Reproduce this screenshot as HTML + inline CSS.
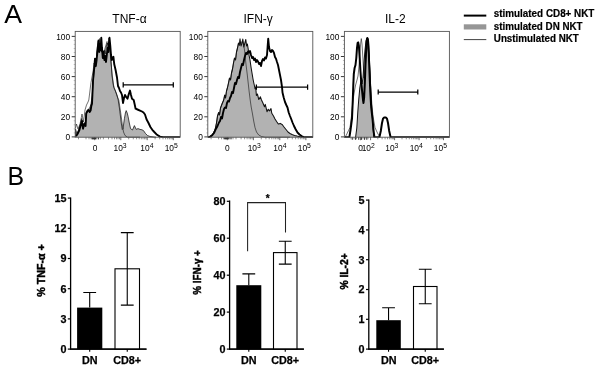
<!DOCTYPE html>
<html><head><meta charset="utf-8"><title>Figure</title>
<style>
html,body{margin:0;padding:0;background:#fff}
body{width:600px;height:369px;overflow:hidden}
svg{display:block}
text{font-family:"Liberation Sans",Arial,sans-serif;fill:#000}
.b{font-weight:bold}
.t{font-size:8.4px}
.s{font-size:6.8px}
.ax{font-size:10.8px;font-weight:bold;stroke:#000;stroke-width:0.25px}
.lg{font-size:10.5px;font-weight:bold;stroke:#000;stroke-width:0.2px}
</style></head><body>
<svg width="600" height="369" viewBox="0 0 600 369">
<rect width="600" height="369" fill="#fff"/>
<defs><clipPath id="cp"><rect x="0" y="0" width="600" height="137.85"/></clipPath></defs>
<text x="4.2" y="23" font-size="25" textLength="17.8" lengthAdjust="spacingAndGlyphs">A</text>
<text x="7.6" y="185" font-size="25" textLength="16.6" lengthAdjust="spacingAndGlyphs">B</text>
<text x="129.5" y="23.3" font-size="12" text-anchor="middle">TNF-α</text>
<line x1="71.7" y1="136.9" x2="75.2" y2="136.9" stroke="#222" stroke-width="0.9"/>
<text x="70.2" y="140.1" class="t" text-anchor="end">0</text>
<line x1="71.7" y1="116.8" x2="75.2" y2="116.8" stroke="#222" stroke-width="0.9"/>
<text x="70.2" y="120.0" class="t" text-anchor="end">20</text>
<line x1="71.7" y1="96.7" x2="75.2" y2="96.7" stroke="#222" stroke-width="0.9"/>
<text x="70.2" y="99.9" class="t" text-anchor="end">40</text>
<line x1="71.7" y1="76.6" x2="75.2" y2="76.6" stroke="#222" stroke-width="0.9"/>
<text x="70.2" y="79.8" class="t" text-anchor="end">60</text>
<line x1="71.7" y1="56.5" x2="75.2" y2="56.5" stroke="#222" stroke-width="0.9"/>
<text x="70.2" y="59.7" class="t" text-anchor="end">80</text>
<line x1="71.7" y1="36.4" x2="75.2" y2="36.4" stroke="#222" stroke-width="0.9"/>
<text x="70.2" y="39.6" class="t" text-anchor="end">100</text>
<line x1="73.7" y1="132.9" x2="75.2" y2="132.9" stroke="#888" stroke-width="0.5"/>
<line x1="73.7" y1="128.9" x2="75.2" y2="128.9" stroke="#888" stroke-width="0.5"/>
<line x1="73.7" y1="124.8" x2="75.2" y2="124.8" stroke="#888" stroke-width="0.5"/>
<line x1="73.7" y1="120.8" x2="75.2" y2="120.8" stroke="#888" stroke-width="0.5"/>
<line x1="73.7" y1="112.8" x2="75.2" y2="112.8" stroke="#888" stroke-width="0.5"/>
<line x1="73.7" y1="108.8" x2="75.2" y2="108.8" stroke="#888" stroke-width="0.5"/>
<line x1="73.7" y1="104.7" x2="75.2" y2="104.7" stroke="#888" stroke-width="0.5"/>
<line x1="73.7" y1="100.7" x2="75.2" y2="100.7" stroke="#888" stroke-width="0.5"/>
<line x1="73.7" y1="92.7" x2="75.2" y2="92.7" stroke="#888" stroke-width="0.5"/>
<line x1="73.7" y1="88.7" x2="75.2" y2="88.7" stroke="#888" stroke-width="0.5"/>
<line x1="73.7" y1="84.6" x2="75.2" y2="84.6" stroke="#888" stroke-width="0.5"/>
<line x1="73.7" y1="80.6" x2="75.2" y2="80.6" stroke="#888" stroke-width="0.5"/>
<line x1="73.7" y1="72.6" x2="75.2" y2="72.6" stroke="#888" stroke-width="0.5"/>
<line x1="73.7" y1="68.6" x2="75.2" y2="68.6" stroke="#888" stroke-width="0.5"/>
<line x1="73.7" y1="64.5" x2="75.2" y2="64.5" stroke="#888" stroke-width="0.5"/>
<line x1="73.7" y1="60.5" x2="75.2" y2="60.5" stroke="#888" stroke-width="0.5"/>
<line x1="73.7" y1="52.5" x2="75.2" y2="52.5" stroke="#888" stroke-width="0.5"/>
<line x1="73.7" y1="48.5" x2="75.2" y2="48.5" stroke="#888" stroke-width="0.5"/>
<line x1="73.7" y1="44.4" x2="75.2" y2="44.4" stroke="#888" stroke-width="0.5"/>
<line x1="73.7" y1="40.4" x2="75.2" y2="40.4" stroke="#888" stroke-width="0.5"/>
<text x="95.2" y="151.3" class="t" text-anchor="middle">0</text>
<text x="120.10000000000001" y="151.3" class="t" text-anchor="middle">10<tspan class="s" dy="-3.5">3</tspan></text>
<text x="146.89999999999998" y="151.3" class="t" text-anchor="middle">10<tspan class="s" dy="-3.5">4</tspan></text>
<text x="171.2" y="151.3" class="t" text-anchor="middle">10<tspan class="s" dy="-3.5">5</tspan></text>
<polygon points="75.5,137.2 75.5,129.0 77.0,134.0 79.0,128.5 80.5,123.5 81.7,118.5 83.0,127.0 84.5,122.5 85.5,123.5 86.2,112.5 87.5,110.0 88.7,108.7 89.8,108.0 91.0,104.0 92.2,96.0 93.0,84.0 93.8,75.0 94.8,67.0 95.4,61.0 96.0,64.0 96.6,56.0 97.3,47.0 98.3,41.0 99.0,48.0 99.8,38.5 100.6,46.0 101.4,52.0 102.3,47.0 103.2,56.0 104.2,50.0 105.2,54.0 106.2,47.0 107.2,43.0 108.2,45.0 109.0,38.0 109.8,44.0 110.6,55.0 111.3,65.0 112.0,76.0 113.7,87.5 115.5,91.0 117.0,95.0 118.2,100.0 119.4,108.0 120.4,116.0 121.4,124.0 122.3,129.5 123.0,128.7 124.4,118.7 125.4,113.0 126.2,110.6 127.2,113.0 128.0,116.2 129.3,123.0 130.6,128.7 132.5,130.0 134.4,125.6 136.2,129.4 138.0,128.6 140.0,129.4 142.0,129.8 143.5,130.6 145.5,133.5 147.5,135.5 150.0,136.5 156.0,137.2" fill="#b2b2b2"/>
<polyline points="75.5,137.2 75.5,129.0 77.0,134.0 79.0,128.5 80.5,123.5 81.7,118.5 83.0,127.0 84.5,122.5 85.5,123.5 86.2,112.5 87.5,110.0 88.7,108.7 89.8,108.0 91.0,104.0 92.2,96.0 93.0,84.0 93.8,75.0 94.8,67.0 95.4,61.0 96.0,64.0 96.6,56.0 97.3,47.0 98.3,41.0 99.0,48.0 99.8,38.5 100.6,46.0 101.4,52.0 102.3,47.0 103.2,56.0 104.2,50.0 105.2,54.0 106.2,47.0 107.2,43.0 108.2,45.0 109.0,38.0 109.8,44.0 110.6,55.0 111.3,65.0 112.0,76.0 113.7,87.5 115.5,91.0 117.0,95.0 118.2,100.0 119.4,108.0 120.4,116.0 121.4,124.0 122.3,129.5 123.0,128.7 124.4,118.7 125.4,113.0 126.2,110.6 127.2,113.0 128.0,116.2 129.3,123.0 130.6,128.7 132.5,130.0 134.4,125.6 136.2,129.4 138.0,128.6 140.0,129.4 142.0,129.8 143.5,130.6 145.5,133.5 147.5,135.5 150.0,136.5 156.0,137.2" fill="none" stroke="#111" stroke-width="0.75" stroke-linejoin="round"/>
<polyline points="75.5,128.0 76.5,124.0 78.0,129.0 80.0,124.0 82.0,114.0 83.5,122.0 85.0,110.0 86.5,105.0 88.0,102.0 88.8,100.0 89.7,93.0 90.4,87.0 91.0,82.5 92.0,77.0 93.0,72.0 94.0,63.0 95.5,66.0 97.0,52.0 98.5,45.0 99.5,52.0 100.5,43.0 101.5,50.0 103.0,55.0 104.5,50.0 106.0,45.0 107.0,41.5 108.0,47.0 109.0,42.0 110.0,50.0 111.0,62.0 112.0,73.0 113.5,85.0 115.0,90.0 117.0,96.0 118.8,100.0 120.0,108.0 121.3,117.0 122.5,126.0 123.5,132.0 125.0,135.5 127.5,137.2 140.0,137.2" fill="none" stroke="#111" stroke-width="0.6" stroke-linejoin="round"/>
<polyline points="76.0,136.3 77.5,134.0 79.4,130.0 80.8,125.0 82.0,121.0 83.0,128.7 84.3,124.0 85.6,126.0 86.2,113.7 87.5,111.0 88.7,110.0 89.7,112.0 90.6,110.6 91.3,106.0 92.0,103.7 92.4,95.0 93.0,81.0 93.6,74.0 94.4,66.0 95.0,58.6 95.8,66.0 96.6,60.0 97.4,52.0 98.0,46.0 98.5,40.5 99.3,52.0 100.0,44.0 100.6,50.0 101.3,37.8 102.0,49.0 102.8,58.0 103.6,52.0 104.4,60.0 105.2,56.0 106.0,62.0 106.8,55.0 107.6,48.0 108.4,52.0 109.5,37.8 110.3,46.0 111.0,55.0 111.8,60.0 112.6,58.0 113.4,56.7 114.2,64.0 115.6,70.0 117.0,77.5 118.0,86.0 119.0,88.0 120.0,91.0 121.0,92.5 122.0,95.0 123.0,103.0 124.0,98.0 125.0,95.0 126.2,97.0 127.5,98.7 128.8,94.0 130.0,90.6 131.0,95.0 132.0,98.7 133.7,100.0 134.6,104.0 135.6,108.7 137.5,109.5 140.0,110.6 142.0,111.5 143.5,112.5 145.0,114.5 146.5,119.3 148.5,123.0 150.4,127.0 152.3,129.8 154.3,132.0 157.0,134.8 160.0,136.6 163.0,137.2 180.0,137.2" fill="none" stroke="#000" stroke-width="1.9" stroke-linejoin="round" clip-path="url(#cp)"/>
<path d="M123.2 84.9H173.3M123.2 82.30000000000001V87.5M173.3 82.30000000000001V87.5" stroke="#000" stroke-width="1.25" fill="none"/>
<rect x="75.2" y="31.4" width="105" height="105.8" fill="none" stroke="#555" stroke-width="0.9"/>
<path d="M91.6 138.4H96.2M98 138.4H98.8" stroke="#111" stroke-width="1.5"/>
<line x1="94.7" y1="137.2" x2="94.7" y2="140.2" stroke="#444" stroke-width="0.8"/>
<line x1="120.8" y1="137.2" x2="120.8" y2="140.2" stroke="#444" stroke-width="0.8"/>
<line x1="147.2" y1="137.2" x2="147.2" y2="140.2" stroke="#444" stroke-width="0.8"/>
<line x1="173.3" y1="137.2" x2="173.3" y2="140.2" stroke="#444" stroke-width="0.8"/>
<line x1="78.5" y1="137.2" x2="78.5" y2="139.29999999999998" stroke="#555" stroke-width="0.65"/>
<line x1="86" y1="137.2" x2="86" y2="139.29999999999998" stroke="#555" stroke-width="0.65"/>
<line x1="89" y1="137.2" x2="89" y2="139.29999999999998" stroke="#555" stroke-width="0.65"/>
<line x1="91" y1="137.2" x2="91" y2="139.29999999999998" stroke="#555" stroke-width="0.65"/>
<line x1="92.5" y1="137.2" x2="92.5" y2="139.29999999999998" stroke="#555" stroke-width="0.65"/>
<line x1="93.6" y1="137.2" x2="93.6" y2="139.29999999999998" stroke="#555" stroke-width="0.65"/>
<line x1="95.8" y1="137.2" x2="95.8" y2="139.29999999999998" stroke="#555" stroke-width="0.65"/>
<line x1="96.9" y1="137.2" x2="96.9" y2="139.29999999999998" stroke="#555" stroke-width="0.65"/>
<line x1="98.4" y1="137.2" x2="98.4" y2="139.29999999999998" stroke="#555" stroke-width="0.65"/>
<line x1="100.4" y1="137.2" x2="100.4" y2="139.29999999999998" stroke="#555" stroke-width="0.65"/>
<line x1="103.4" y1="137.2" x2="103.4" y2="139.29999999999998" stroke="#555" stroke-width="0.65"/>
<line x1="108.5" y1="137.2" x2="108.5" y2="139.29999999999998" stroke="#555" stroke-width="0.65"/>
<line x1="112" y1="137.2" x2="112" y2="139.29999999999998" stroke="#555" stroke-width="0.65"/>
<line x1="114.5" y1="137.2" x2="114.5" y2="139.29999999999998" stroke="#555" stroke-width="0.65"/>
<line x1="116.5" y1="137.2" x2="116.5" y2="139.29999999999998" stroke="#555" stroke-width="0.65"/>
<line x1="118" y1="137.2" x2="118" y2="139.29999999999998" stroke="#555" stroke-width="0.65"/>
<line x1="119.5" y1="137.2" x2="119.5" y2="139.29999999999998" stroke="#555" stroke-width="0.65"/>
<line x1="128.7" y1="137.2" x2="128.7" y2="139.29999999999998" stroke="#555" stroke-width="0.65"/>
<line x1="133.3" y1="137.2" x2="133.3" y2="139.29999999999998" stroke="#555" stroke-width="0.65"/>
<line x1="136.6" y1="137.2" x2="136.6" y2="139.29999999999998" stroke="#555" stroke-width="0.65"/>
<line x1="139.2" y1="137.2" x2="139.2" y2="139.29999999999998" stroke="#555" stroke-width="0.65"/>
<line x1="141.3" y1="137.2" x2="141.3" y2="139.29999999999998" stroke="#555" stroke-width="0.65"/>
<line x1="143" y1="137.2" x2="143" y2="139.29999999999998" stroke="#555" stroke-width="0.65"/>
<line x1="144.6" y1="137.2" x2="144.6" y2="139.29999999999998" stroke="#555" stroke-width="0.65"/>
<line x1="146" y1="137.2" x2="146" y2="139.29999999999998" stroke="#555" stroke-width="0.65"/>
<line x1="155.1" y1="137.2" x2="155.1" y2="139.29999999999998" stroke="#555" stroke-width="0.65"/>
<line x1="159.7" y1="137.2" x2="159.7" y2="139.29999999999998" stroke="#555" stroke-width="0.65"/>
<line x1="163" y1="137.2" x2="163" y2="139.29999999999998" stroke="#555" stroke-width="0.65"/>
<line x1="165.6" y1="137.2" x2="165.6" y2="139.29999999999998" stroke="#555" stroke-width="0.65"/>
<line x1="167.7" y1="137.2" x2="167.7" y2="139.29999999999998" stroke="#555" stroke-width="0.65"/>
<line x1="169.4" y1="137.2" x2="169.4" y2="139.29999999999998" stroke="#555" stroke-width="0.65"/>
<line x1="171" y1="137.2" x2="171" y2="139.29999999999998" stroke="#555" stroke-width="0.65"/>
<line x1="172.3" y1="137.2" x2="172.3" y2="139.29999999999998" stroke="#555" stroke-width="0.65"/>
<text x="258.2" y="23.3" font-size="12" text-anchor="middle">IFN-γ</text>
<line x1="204.3" y1="136.9" x2="207.8" y2="136.9" stroke="#222" stroke-width="0.9"/>
<text x="202.8" y="140.1" class="t" text-anchor="end">0</text>
<line x1="204.3" y1="116.8" x2="207.8" y2="116.8" stroke="#222" stroke-width="0.9"/>
<text x="202.8" y="120.0" class="t" text-anchor="end">20</text>
<line x1="204.3" y1="96.7" x2="207.8" y2="96.7" stroke="#222" stroke-width="0.9"/>
<text x="202.8" y="99.9" class="t" text-anchor="end">40</text>
<line x1="204.3" y1="76.6" x2="207.8" y2="76.6" stroke="#222" stroke-width="0.9"/>
<text x="202.8" y="79.8" class="t" text-anchor="end">60</text>
<line x1="204.3" y1="56.5" x2="207.8" y2="56.5" stroke="#222" stroke-width="0.9"/>
<text x="202.8" y="59.7" class="t" text-anchor="end">80</text>
<line x1="204.3" y1="36.4" x2="207.8" y2="36.4" stroke="#222" stroke-width="0.9"/>
<text x="202.8" y="39.6" class="t" text-anchor="end">100</text>
<line x1="206.3" y1="132.9" x2="207.8" y2="132.9" stroke="#888" stroke-width="0.5"/>
<line x1="206.3" y1="128.9" x2="207.8" y2="128.9" stroke="#888" stroke-width="0.5"/>
<line x1="206.3" y1="124.8" x2="207.8" y2="124.8" stroke="#888" stroke-width="0.5"/>
<line x1="206.3" y1="120.8" x2="207.8" y2="120.8" stroke="#888" stroke-width="0.5"/>
<line x1="206.3" y1="112.8" x2="207.8" y2="112.8" stroke="#888" stroke-width="0.5"/>
<line x1="206.3" y1="108.8" x2="207.8" y2="108.8" stroke="#888" stroke-width="0.5"/>
<line x1="206.3" y1="104.7" x2="207.8" y2="104.7" stroke="#888" stroke-width="0.5"/>
<line x1="206.3" y1="100.7" x2="207.8" y2="100.7" stroke="#888" stroke-width="0.5"/>
<line x1="206.3" y1="92.7" x2="207.8" y2="92.7" stroke="#888" stroke-width="0.5"/>
<line x1="206.3" y1="88.7" x2="207.8" y2="88.7" stroke="#888" stroke-width="0.5"/>
<line x1="206.3" y1="84.6" x2="207.8" y2="84.6" stroke="#888" stroke-width="0.5"/>
<line x1="206.3" y1="80.6" x2="207.8" y2="80.6" stroke="#888" stroke-width="0.5"/>
<line x1="206.3" y1="72.6" x2="207.8" y2="72.6" stroke="#888" stroke-width="0.5"/>
<line x1="206.3" y1="68.6" x2="207.8" y2="68.6" stroke="#888" stroke-width="0.5"/>
<line x1="206.3" y1="64.5" x2="207.8" y2="64.5" stroke="#888" stroke-width="0.5"/>
<line x1="206.3" y1="60.5" x2="207.8" y2="60.5" stroke="#888" stroke-width="0.5"/>
<line x1="206.3" y1="52.5" x2="207.8" y2="52.5" stroke="#888" stroke-width="0.5"/>
<line x1="206.3" y1="48.5" x2="207.8" y2="48.5" stroke="#888" stroke-width="0.5"/>
<line x1="206.3" y1="44.4" x2="207.8" y2="44.4" stroke="#888" stroke-width="0.5"/>
<line x1="206.3" y1="40.4" x2="207.8" y2="40.4" stroke="#888" stroke-width="0.5"/>
<text x="227.4" y="151.3" class="t" text-anchor="middle">0</text>
<text x="254.2" y="151.3" class="t" text-anchor="middle">10<tspan class="s" dy="-3.5">3</tspan></text>
<text x="279.9" y="151.3" class="t" text-anchor="middle">10<tspan class="s" dy="-3.5">4</tspan></text>
<text x="304.3" y="151.3" class="t" text-anchor="middle">10<tspan class="s" dy="-3.5">5</tspan></text>
<polygon points="208.0,137.2 210.0,136.5 212.0,135.0 213.5,133.0 215.0,130.0 216.5,123.0 217.5,116.0 218.7,112.5 219.5,115.0 220.5,108.0 222.0,104.0 223.7,100.0 224.7,95.0 225.5,98.0 226.5,91.0 227.5,87.5 228.5,83.0 229.5,78.0 230.5,80.0 231.5,73.0 232.5,69.0 233.5,63.0 234.5,58.0 235.5,60.0 236.5,52.0 237.5,48.0 238.5,43.0 239.3,45.0 240.0,38.7 241.0,46.0 241.8,44.0 242.8,39.0 243.8,47.0 244.6,44.0 245.8,39.5 246.6,46.0 247.4,44.0 248.2,49.0 249.0,55.0 250.0,60.0 251.0,67.0 252.0,73.0 253.0,79.0 253.7,82.5 254.5,86.0 255.0,88.7 255.7,87.0 256.4,95.5 257.4,94.0 258.8,99.5 260.4,96.8 261.5,100.0 262.8,102.8 264.5,106.8 265.3,104.4 267.0,111.7 268.2,109.3 269.4,110.9 271.0,108.6 271.8,113.3 273.5,116.0 275.0,119.0 276.6,121.5 278.3,124.0 280.3,123.4 282.4,124.7 283.6,126.5 284.8,128.0 286.4,130.0 288.0,132.0 290.0,133.5 292.0,134.5 294.5,135.4 297.0,136.1 302.0,137.2" fill="#b2b2b2"/>
<polyline points="208.0,137.2 210.0,136.5 212.0,135.0 213.5,133.0 215.0,130.0 216.5,123.0 217.5,116.0 218.7,112.5 219.5,115.0 220.5,108.0 222.0,104.0 223.7,100.0 224.7,95.0 225.5,98.0 226.5,91.0 227.5,87.5 228.5,83.0 229.5,78.0 230.5,80.0 231.5,73.0 232.5,69.0 233.5,63.0 234.5,58.0 235.5,60.0 236.5,52.0 237.5,48.0 238.5,43.0 239.3,45.0 240.0,38.7 241.0,46.0 241.8,44.0 242.8,39.0 243.8,47.0 244.6,44.0 245.8,39.5 246.6,46.0 247.4,44.0 248.2,49.0 249.0,55.0 250.0,60.0 251.0,67.0 252.0,73.0 253.0,79.0 253.7,82.5 254.5,86.0 255.0,88.7 255.7,87.0 256.4,95.5 257.4,94.0 258.8,99.5 260.4,96.8 261.5,100.0 262.8,102.8 264.5,106.8 265.3,104.4 267.0,111.7 268.2,109.3 269.4,110.9 271.0,108.6 271.8,113.3 273.5,116.0 275.0,119.0 276.6,121.5 278.3,124.0 280.3,123.4 282.4,124.7 283.6,126.5 284.8,128.0 286.4,130.0 288.0,132.0 290.0,133.5 292.0,134.5 294.5,135.4 297.0,136.1 302.0,137.2" fill="none" stroke="#111" stroke-width="1.05" stroke-linejoin="round"/>
<polyline points="208.0,137.2 210.0,136.5 212.0,135.0 213.5,133.0 215.0,130.0 216.5,123.0 217.5,116.0 218.7,112.5 219.5,115.0 220.5,108.0 222.0,104.0 223.7,100.0 224.7,95.0 225.5,98.0 226.5,91.0 227.5,87.5 228.5,83.0 229.5,78.0 230.5,80.0 231.5,73.0 232.5,69.0 233.5,63.0 234.5,58.0 235.5,60.0 236.5,52.0 237.5,48.0 238.5,43.0 239.5,45.5 241.0,43.0 242.5,41.0 243.5,44.0 244.5,50.0 245.3,58.0 246.2,66.0 247.2,74.0 248.2,83.0 249.2,92.0 250.2,100.0 251.2,107.0 252.5,114.0 253.7,121.0 255.0,127.5 256.5,132.0 258.7,135.0 261.5,136.5 265.0,137.2 290.0,137.2" fill="none" stroke="#111" stroke-width="0.6" stroke-linejoin="round"/>
<polyline points="208.5,137.2 210.0,136.8 212.0,135.5 214.0,133.0 216.0,128.7 217.5,126.0 219.0,122.5 220.0,121.0 221.0,117.0 222.0,118.5 223.0,113.0 224.0,109.0 225.0,107.5 226.0,108.0 227.0,103.0 228.0,101.0 229.0,101.5 230.0,98.0 231.0,96.0 232.0,92.0 233.0,93.0 234.0,88.0 235.0,83.0 236.0,84.0 237.0,80.0 238.0,77.0 239.0,78.0 240.0,72.0 241.0,68.0 242.0,64.0 243.0,65.0 244.0,60.0 245.0,56.0 246.0,53.0 247.0,54.0 248.0,51.5 249.0,52.5 250.0,51.0 251.0,55.0 252.0,58.0 253.0,57.0 254.0,60.0 255.0,58.5 256.0,62.0 257.0,60.0 258.0,61.5 259.0,64.0 260.0,63.0 261.0,66.0 262.0,61.0 263.0,59.0 264.0,60.5 265.0,57.5 266.0,58.5 267.0,55.0 267.6,47.0 268.2,38.7 269.0,47.0 270.0,51.0 271.0,52.0 272.0,50.0 273.0,51.0 274.0,53.0 275.0,57.0 276.0,58.7 277.0,62.0 278.0,65.0 279.0,70.0 280.0,75.0 281.0,80.0 282.0,87.0 282.5,92.5 283.7,97.5 285.0,102.0 286.3,105.0 287.5,107.5 288.7,112.5 290.0,116.0 291.2,119.0 292.5,122.5 294.0,126.0 295.5,129.0 297.5,132.5 299.5,134.5 301.5,136.0 303.7,137.2 313.0,137.2" fill="none" stroke="#000" stroke-width="1.9" stroke-linejoin="round" clip-path="url(#cp)"/>
<path d="M256.4 87.2H307.6M256.4 84.60000000000001V89.8M307.6 84.60000000000001V89.8" stroke="#000" stroke-width="1.25" fill="none"/>
<rect x="207.8" y="31.4" width="105" height="105.8" fill="none" stroke="#555" stroke-width="0.9"/>
<path d="M224.2 138.4H228.8M230.6 138.4H231.4" stroke="#111" stroke-width="1.5"/>
<line x1="227.3" y1="137.2" x2="227.3" y2="140.2" stroke="#444" stroke-width="0.8"/>
<line x1="253.4" y1="137.2" x2="253.4" y2="140.2" stroke="#444" stroke-width="0.8"/>
<line x1="279.8" y1="137.2" x2="279.8" y2="140.2" stroke="#444" stroke-width="0.8"/>
<line x1="305.9" y1="137.2" x2="305.9" y2="140.2" stroke="#444" stroke-width="0.8"/>
<line x1="211.1" y1="137.2" x2="211.1" y2="139.29999999999998" stroke="#555" stroke-width="0.65"/>
<line x1="218.6" y1="137.2" x2="218.6" y2="139.29999999999998" stroke="#555" stroke-width="0.65"/>
<line x1="221.6" y1="137.2" x2="221.6" y2="139.29999999999998" stroke="#555" stroke-width="0.65"/>
<line x1="223.6" y1="137.2" x2="223.6" y2="139.29999999999998" stroke="#555" stroke-width="0.65"/>
<line x1="225.1" y1="137.2" x2="225.1" y2="139.29999999999998" stroke="#555" stroke-width="0.65"/>
<line x1="226.2" y1="137.2" x2="226.2" y2="139.29999999999998" stroke="#555" stroke-width="0.65"/>
<line x1="228.4" y1="137.2" x2="228.4" y2="139.29999999999998" stroke="#555" stroke-width="0.65"/>
<line x1="229.5" y1="137.2" x2="229.5" y2="139.29999999999998" stroke="#555" stroke-width="0.65"/>
<line x1="231" y1="137.2" x2="231" y2="139.29999999999998" stroke="#555" stroke-width="0.65"/>
<line x1="233" y1="137.2" x2="233" y2="139.29999999999998" stroke="#555" stroke-width="0.65"/>
<line x1="236" y1="137.2" x2="236" y2="139.29999999999998" stroke="#555" stroke-width="0.65"/>
<line x1="241.1" y1="137.2" x2="241.1" y2="139.29999999999998" stroke="#555" stroke-width="0.65"/>
<line x1="244.6" y1="137.2" x2="244.6" y2="139.29999999999998" stroke="#555" stroke-width="0.65"/>
<line x1="247.1" y1="137.2" x2="247.1" y2="139.29999999999998" stroke="#555" stroke-width="0.65"/>
<line x1="249.1" y1="137.2" x2="249.1" y2="139.29999999999998" stroke="#555" stroke-width="0.65"/>
<line x1="250.6" y1="137.2" x2="250.6" y2="139.29999999999998" stroke="#555" stroke-width="0.65"/>
<line x1="252.1" y1="137.2" x2="252.1" y2="139.29999999999998" stroke="#555" stroke-width="0.65"/>
<line x1="261.3" y1="137.2" x2="261.3" y2="139.29999999999998" stroke="#555" stroke-width="0.65"/>
<line x1="265.9" y1="137.2" x2="265.9" y2="139.29999999999998" stroke="#555" stroke-width="0.65"/>
<line x1="269.2" y1="137.2" x2="269.2" y2="139.29999999999998" stroke="#555" stroke-width="0.65"/>
<line x1="271.8" y1="137.2" x2="271.8" y2="139.29999999999998" stroke="#555" stroke-width="0.65"/>
<line x1="273.9" y1="137.2" x2="273.9" y2="139.29999999999998" stroke="#555" stroke-width="0.65"/>
<line x1="275.6" y1="137.2" x2="275.6" y2="139.29999999999998" stroke="#555" stroke-width="0.65"/>
<line x1="277.2" y1="137.2" x2="277.2" y2="139.29999999999998" stroke="#555" stroke-width="0.65"/>
<line x1="278.6" y1="137.2" x2="278.6" y2="139.29999999999998" stroke="#555" stroke-width="0.65"/>
<line x1="287.7" y1="137.2" x2="287.7" y2="139.29999999999998" stroke="#555" stroke-width="0.65"/>
<line x1="292.3" y1="137.2" x2="292.3" y2="139.29999999999998" stroke="#555" stroke-width="0.65"/>
<line x1="295.6" y1="137.2" x2="295.6" y2="139.29999999999998" stroke="#555" stroke-width="0.65"/>
<line x1="298.2" y1="137.2" x2="298.2" y2="139.29999999999998" stroke="#555" stroke-width="0.65"/>
<line x1="300.3" y1="137.2" x2="300.3" y2="139.29999999999998" stroke="#555" stroke-width="0.65"/>
<line x1="302" y1="137.2" x2="302" y2="139.29999999999998" stroke="#555" stroke-width="0.65"/>
<line x1="303.6" y1="137.2" x2="303.6" y2="139.29999999999998" stroke="#555" stroke-width="0.65"/>
<line x1="304.9" y1="137.2" x2="304.9" y2="139.29999999999998" stroke="#555" stroke-width="0.65"/>
<text x="395.3" y="23.3" font-size="12" text-anchor="middle">IL-2</text>
<line x1="340.9" y1="136.9" x2="344.4" y2="136.9" stroke="#222" stroke-width="0.9"/>
<text x="339.4" y="140.1" class="t" text-anchor="end">0</text>
<line x1="340.9" y1="116.8" x2="344.4" y2="116.8" stroke="#222" stroke-width="0.9"/>
<text x="339.4" y="120.0" class="t" text-anchor="end">20</text>
<line x1="340.9" y1="96.7" x2="344.4" y2="96.7" stroke="#222" stroke-width="0.9"/>
<text x="339.4" y="99.9" class="t" text-anchor="end">40</text>
<line x1="340.9" y1="76.6" x2="344.4" y2="76.6" stroke="#222" stroke-width="0.9"/>
<text x="339.4" y="79.8" class="t" text-anchor="end">60</text>
<line x1="340.9" y1="56.5" x2="344.4" y2="56.5" stroke="#222" stroke-width="0.9"/>
<text x="339.4" y="59.7" class="t" text-anchor="end">80</text>
<line x1="340.9" y1="36.4" x2="344.4" y2="36.4" stroke="#222" stroke-width="0.9"/>
<text x="339.4" y="39.6" class="t" text-anchor="end">100</text>
<line x1="342.9" y1="132.9" x2="344.4" y2="132.9" stroke="#888" stroke-width="0.5"/>
<line x1="342.9" y1="128.9" x2="344.4" y2="128.9" stroke="#888" stroke-width="0.5"/>
<line x1="342.9" y1="124.8" x2="344.4" y2="124.8" stroke="#888" stroke-width="0.5"/>
<line x1="342.9" y1="120.8" x2="344.4" y2="120.8" stroke="#888" stroke-width="0.5"/>
<line x1="342.9" y1="112.8" x2="344.4" y2="112.8" stroke="#888" stroke-width="0.5"/>
<line x1="342.9" y1="108.8" x2="344.4" y2="108.8" stroke="#888" stroke-width="0.5"/>
<line x1="342.9" y1="104.7" x2="344.4" y2="104.7" stroke="#888" stroke-width="0.5"/>
<line x1="342.9" y1="100.7" x2="344.4" y2="100.7" stroke="#888" stroke-width="0.5"/>
<line x1="342.9" y1="92.7" x2="344.4" y2="92.7" stroke="#888" stroke-width="0.5"/>
<line x1="342.9" y1="88.7" x2="344.4" y2="88.7" stroke="#888" stroke-width="0.5"/>
<line x1="342.9" y1="84.6" x2="344.4" y2="84.6" stroke="#888" stroke-width="0.5"/>
<line x1="342.9" y1="80.6" x2="344.4" y2="80.6" stroke="#888" stroke-width="0.5"/>
<line x1="342.9" y1="72.6" x2="344.4" y2="72.6" stroke="#888" stroke-width="0.5"/>
<line x1="342.9" y1="68.6" x2="344.4" y2="68.6" stroke="#888" stroke-width="0.5"/>
<line x1="342.9" y1="64.5" x2="344.4" y2="64.5" stroke="#888" stroke-width="0.5"/>
<line x1="342.9" y1="60.5" x2="344.4" y2="60.5" stroke="#888" stroke-width="0.5"/>
<line x1="342.9" y1="52.5" x2="344.4" y2="52.5" stroke="#888" stroke-width="0.5"/>
<line x1="342.9" y1="48.5" x2="344.4" y2="48.5" stroke="#888" stroke-width="0.5"/>
<line x1="342.9" y1="44.4" x2="344.4" y2="44.4" stroke="#888" stroke-width="0.5"/>
<line x1="342.9" y1="40.4" x2="344.4" y2="40.4" stroke="#888" stroke-width="0.5"/>
<text x="360.6" y="151.3" class="t" text-anchor="middle">0</text>
<text x="368.2" y="151.3" class="t" text-anchor="middle">10<tspan class="s" dy="-3.5">2</tspan></text>
<text x="391.8" y="151.3" class="t" text-anchor="middle">10<tspan class="s" dy="-3.5">3</tspan></text>
<text x="416.2" y="151.3" class="t" text-anchor="middle">10<tspan class="s" dy="-3.5">4</tspan></text>
<text x="440.4" y="151.3" class="t" text-anchor="middle">10<tspan class="s" dy="-3.5">5</tspan></text>
<polygon points="355.6,137.2 356.8,128.0 357.8,112.0 358.7,100.0 359.8,88.0 361.0,80.0 362.0,84.0 363.0,78.0 364.0,62.0 365.0,50.0 366.0,41.0 367.0,38.0 368.0,40.0 369.0,52.0 370.0,72.0 371.0,95.0 372.0,112.0 373.0,128.0 373.8,137.2" fill="#b2b2b2"/>
<polyline points="355.6,137.2 356.8,128.0 357.8,112.0 358.7,100.0 359.8,88.0 361.0,80.0 362.0,84.0 363.0,78.0 364.0,62.0 365.0,50.0 366.0,41.0 367.0,38.0 368.0,40.0 369.0,52.0 370.0,72.0 371.0,95.0 372.0,112.0 373.0,128.0 373.8,137.2" fill="none" stroke="#111" stroke-width="1" stroke-linejoin="round"/>
<polyline points="344.6,137.2 346.0,135.8 347.0,133.7 348.5,130.5 350.0,127.5 351.5,116.0 353.0,100.0 354.3,92.0 355.6,85.0 357.0,80.0 358.0,76.0 359.0,66.0 360.0,52.0 360.8,42.0 361.3,38.6 362.0,44.0 363.0,60.0 364.0,78.0 365.0,70.0 366.0,58.0 367.0,50.0 368.0,46.0 369.0,56.0 370.0,74.0 371.0,92.0 372.0,106.0 373.0,116.0 374.0,122.0 375.0,127.5 376.5,131.0 378.0,134.0 380.0,137.2" fill="none" stroke="#111" stroke-width="0.6" stroke-linejoin="round"/>
<polyline points="344.6,137.2 349.4,137.2 350.5,130.0 352.0,118.7 352.8,100.0 353.3,85.0 353.8,74.0 354.6,68.0 355.5,65.0 356.3,58.0 357.0,48.0 357.6,43.0 358.2,42.4 358.9,46.0 359.7,58.0 360.5,72.0 361.4,84.0 362.2,92.0 363.0,100.0 363.5,103.0 364.1,98.0 364.8,84.0 365.5,64.0 366.2,48.0 366.8,40.0 367.3,38.0 367.9,39.0 368.5,46.0 369.4,70.0 370.3,92.0 371.2,107.5 372.5,118.7 373.5,130.0 374.4,137.2 379.4,137.2 380.8,131.0 382.0,123.0 383.0,118.7 384.0,117.6 386.0,117.6 387.0,118.7 388.0,123.0 389.2,131.0 390.6,137.2 449.4,137.2" fill="none" stroke="#000" stroke-width="2" stroke-linejoin="round" clip-path="url(#cp)"/>
<path d="M378.2 92H417.8M378.2 89.4V94.6M417.8 89.4V94.6" stroke="#000" stroke-width="1.25" fill="none"/>
<rect x="344.4" y="31.4" width="105" height="105.8" fill="none" stroke="#555" stroke-width="0.9"/>
<path d="M352.3 137.4V139.8M355.5 137.4V139.8M358.8 137.4V139.8M361.5 137.4V139.8M364.5 137.4V139.8M366.8 137.4V139.8" stroke="#222" stroke-width="0.9"/>
<line x1="360.5" y1="137.2" x2="360.5" y2="140.2" stroke="#444" stroke-width="0.8"/>
<line x1="370.6" y1="137.2" x2="370.6" y2="140.2" stroke="#444" stroke-width="0.8"/>
<line x1="394.6" y1="137.2" x2="394.6" y2="140.2" stroke="#444" stroke-width="0.8"/>
<line x1="419.1" y1="137.2" x2="419.1" y2="140.2" stroke="#444" stroke-width="0.8"/>
<line x1="443.5" y1="137.2" x2="443.5" y2="140.2" stroke="#444" stroke-width="0.8"/>
<line x1="351" y1="137.2" x2="351" y2="139.29999999999998" stroke="#555" stroke-width="0.65"/>
<line x1="354" y1="137.2" x2="354" y2="139.29999999999998" stroke="#555" stroke-width="0.65"/>
<line x1="356.5" y1="137.2" x2="356.5" y2="139.29999999999998" stroke="#555" stroke-width="0.65"/>
<line x1="358.5" y1="137.2" x2="358.5" y2="139.29999999999998" stroke="#555" stroke-width="0.65"/>
<line x1="362" y1="137.2" x2="362" y2="139.29999999999998" stroke="#555" stroke-width="0.65"/>
<line x1="364" y1="137.2" x2="364" y2="139.29999999999998" stroke="#555" stroke-width="0.65"/>
<line x1="366" y1="137.2" x2="366" y2="139.29999999999998" stroke="#555" stroke-width="0.65"/>
<line x1="368" y1="137.2" x2="368" y2="139.29999999999998" stroke="#555" stroke-width="0.65"/>
<line x1="377.8" y1="137.2" x2="377.8" y2="139.29999999999998" stroke="#555" stroke-width="0.65"/>
<line x1="382.1" y1="137.2" x2="382.1" y2="139.29999999999998" stroke="#555" stroke-width="0.65"/>
<line x1="385.1" y1="137.2" x2="385.1" y2="139.29999999999998" stroke="#555" stroke-width="0.65"/>
<line x1="387.5" y1="137.2" x2="387.5" y2="139.29999999999998" stroke="#555" stroke-width="0.65"/>
<line x1="389.4" y1="137.2" x2="389.4" y2="139.29999999999998" stroke="#555" stroke-width="0.65"/>
<line x1="391" y1="137.2" x2="391" y2="139.29999999999998" stroke="#555" stroke-width="0.65"/>
<line x1="392.4" y1="137.2" x2="392.4" y2="139.29999999999998" stroke="#555" stroke-width="0.65"/>
<line x1="393.6" y1="137.2" x2="393.6" y2="139.29999999999998" stroke="#555" stroke-width="0.65"/>
<line x1="402" y1="137.2" x2="402" y2="139.29999999999998" stroke="#555" stroke-width="0.65"/>
<line x1="406.3" y1="137.2" x2="406.3" y2="139.29999999999998" stroke="#555" stroke-width="0.65"/>
<line x1="409.3" y1="137.2" x2="409.3" y2="139.29999999999998" stroke="#555" stroke-width="0.65"/>
<line x1="411.7" y1="137.2" x2="411.7" y2="139.29999999999998" stroke="#555" stroke-width="0.65"/>
<line x1="413.6" y1="137.2" x2="413.6" y2="139.29999999999998" stroke="#555" stroke-width="0.65"/>
<line x1="415.2" y1="137.2" x2="415.2" y2="139.29999999999998" stroke="#555" stroke-width="0.65"/>
<line x1="416.6" y1="137.2" x2="416.6" y2="139.29999999999998" stroke="#555" stroke-width="0.65"/>
<line x1="417.9" y1="137.2" x2="417.9" y2="139.29999999999998" stroke="#555" stroke-width="0.65"/>
<line x1="426.4" y1="137.2" x2="426.4" y2="139.29999999999998" stroke="#555" stroke-width="0.65"/>
<line x1="430.7" y1="137.2" x2="430.7" y2="139.29999999999998" stroke="#555" stroke-width="0.65"/>
<line x1="433.7" y1="137.2" x2="433.7" y2="139.29999999999998" stroke="#555" stroke-width="0.65"/>
<line x1="436.1" y1="137.2" x2="436.1" y2="139.29999999999998" stroke="#555" stroke-width="0.65"/>
<line x1="438" y1="137.2" x2="438" y2="139.29999999999998" stroke="#555" stroke-width="0.65"/>
<line x1="439.6" y1="137.2" x2="439.6" y2="139.29999999999998" stroke="#555" stroke-width="0.65"/>
<line x1="441" y1="137.2" x2="441" y2="139.29999999999998" stroke="#555" stroke-width="0.65"/>
<line x1="442.3" y1="137.2" x2="442.3" y2="139.29999999999998" stroke="#555" stroke-width="0.65"/>
<line x1="463.8" y1="15.6" x2="486.3" y2="15.6" stroke="#000" stroke-width="2"/>
<rect x="463.8" y="24.3" width="22.5" height="5.2" fill="#969696"/>
<line x1="463.8" y1="39.6" x2="486.3" y2="39.6" stroke="#111" stroke-width="0.8"/>
<text x="493.8" y="17.3" class="lg" textLength="100.6" lengthAdjust="spacingAndGlyphs">stimulated CD8+ NKT</text>
<text x="493.8" y="29.5" class="lg" textLength="88.8" lengthAdjust="spacingAndGlyphs">stimulated DN NKT</text>
<text x="493.8" y="41.8" class="lg" textLength="85" lengthAdjust="spacingAndGlyphs">Unstimulated NKT</text>
<path d="M70.6 197.4V349.1H146.5" fill="none" stroke="#000" stroke-width="1.3"/>
<line x1="67.8" y1="349.1" x2="70.6" y2="349.1" stroke="#000" stroke-width="1.2"/>
<text x="66.39999999999999" y="352.9" class="ax" text-anchor="end">0</text>
<line x1="67.8" y1="318.9" x2="70.6" y2="318.9" stroke="#000" stroke-width="1.2"/>
<text x="66.39999999999999" y="322.7" class="ax" text-anchor="end">3</text>
<line x1="67.8" y1="288.7" x2="70.6" y2="288.7" stroke="#000" stroke-width="1.2"/>
<text x="66.39999999999999" y="292.5" class="ax" text-anchor="end">6</text>
<line x1="67.8" y1="258.5" x2="70.6" y2="258.5" stroke="#000" stroke-width="1.2"/>
<text x="66.39999999999999" y="262.3" class="ax" text-anchor="end">9</text>
<line x1="67.8" y1="228.3" x2="70.6" y2="228.3" stroke="#000" stroke-width="1.2"/>
<text x="66.39999999999999" y="232.1" class="ax" text-anchor="end">12</text>
<line x1="67.8" y1="198.1" x2="70.6" y2="198.1" stroke="#000" stroke-width="1.2"/>
<text x="66.39999999999999" y="201.9" class="ax" text-anchor="end">15</text>
<rect x="77.1" y="307.6" width="25.200000000000003" height="41.5" fill="#000"/>
<path d="M89.69999999999999 307.6V292.5M83.29999999999998 292.5H96.1M89.69999999999999 349.1V351.70000000000005" stroke="#000" stroke-width="1.1" fill="none"/>
<rect x="115.0" y="268.8" width="24.5" height="80.3" fill="#fff" stroke="#000" stroke-width="1.1"/>
<path d="M127.25 305.1V232.6M120.85 232.6H133.65M120.85 305.1H133.65M127.25 349.1V351.70000000000005" stroke="#000" stroke-width="1.1" fill="none"/>
<line x1="70.0" y1="349.1" x2="146.5" y2="349.1" stroke="#000" stroke-width="1.4"/>
<text x="89.8" y="363.6" class="ax" text-anchor="middle">DN</text>
<text x="127.2" y="363.6" class="ax" text-anchor="middle">CD8+</text>
<text transform="translate(44.7 270.5) rotate(-90)" class="ax" style="stroke-width:0.45px" text-anchor="middle" textLength="52.4" lengthAdjust="spacingAndGlyphs">% TNF-α +</text>
<path d="M229.6 200.6V349.1H303.9" fill="none" stroke="#000" stroke-width="1.3"/>
<line x1="226.79999999999998" y1="349.1" x2="229.6" y2="349.1" stroke="#000" stroke-width="1.2"/>
<text x="225.4" y="352.9" class="ax" text-anchor="end">0</text>
<line x1="226.79999999999998" y1="312.1" x2="229.6" y2="312.1" stroke="#000" stroke-width="1.2"/>
<text x="225.4" y="315.9" class="ax" text-anchor="end">20</text>
<line x1="226.79999999999998" y1="275.2" x2="229.6" y2="275.2" stroke="#000" stroke-width="1.2"/>
<text x="225.4" y="279.0" class="ax" text-anchor="end">40</text>
<line x1="226.79999999999998" y1="238.2" x2="229.6" y2="238.2" stroke="#000" stroke-width="1.2"/>
<text x="225.4" y="242.0" class="ax" text-anchor="end">60</text>
<line x1="226.79999999999998" y1="201.3" x2="229.6" y2="201.3" stroke="#000" stroke-width="1.2"/>
<text x="225.4" y="205.1" class="ax" text-anchor="end">80</text>
<rect x="236.3" y="285.2" width="25.0" height="63.9" fill="#000"/>
<path d="M248.8 285.2V273.9M242.4 273.9H255.20000000000002M248.8 349.1V351.70000000000005" stroke="#000" stroke-width="1.1" fill="none"/>
<rect x="273.5" y="252.6" width="23.5" height="96.5" fill="#fff" stroke="#000" stroke-width="1.1"/>
<path d="M285.25 264.1V241.2M278.85 241.2H291.65M278.85 264.1H291.65M285.25 349.1V351.70000000000005" stroke="#000" stroke-width="1.1" fill="none"/>
<line x1="229.0" y1="349.1" x2="303.9" y2="349.1" stroke="#000" stroke-width="1.4"/>
<text x="248.8" y="363.6" class="ax" text-anchor="middle">DN</text>
<text x="285.2" y="363.6" class="ax" text-anchor="middle">CD8+</text>
<text transform="translate(200.8 272.4) rotate(-90)" class="ax" style="stroke-width:0.45px" text-anchor="middle" textLength="44.5" lengthAdjust="spacingAndGlyphs">% IFN-γ +</text>
<path d="M368.8 199.4V349.1H443.9" fill="none" stroke="#000" stroke-width="1.3"/>
<line x1="366.0" y1="349.1" x2="368.8" y2="349.1" stroke="#000" stroke-width="1.2"/>
<text x="364.6" y="352.9" class="ax" text-anchor="end">0</text>
<line x1="366.0" y1="319.3" x2="368.8" y2="319.3" stroke="#000" stroke-width="1.2"/>
<text x="364.6" y="323.1" class="ax" text-anchor="end">1</text>
<line x1="366.0" y1="289.5" x2="368.8" y2="289.5" stroke="#000" stroke-width="1.2"/>
<text x="364.6" y="293.3" class="ax" text-anchor="end">2</text>
<line x1="366.0" y1="259.7" x2="368.8" y2="259.7" stroke="#000" stroke-width="1.2"/>
<text x="364.6" y="263.5" class="ax" text-anchor="end">3</text>
<line x1="366.0" y1="229.9" x2="368.8" y2="229.9" stroke="#000" stroke-width="1.2"/>
<text x="364.6" y="233.7" class="ax" text-anchor="end">4</text>
<line x1="366.0" y1="200.1" x2="368.8" y2="200.1" stroke="#000" stroke-width="1.2"/>
<text x="364.6" y="203.9" class="ax" text-anchor="end">5</text>
<rect x="376.3" y="320.2" width="24.5" height="28.9" fill="#000"/>
<path d="M388.55 320.2V307.7M382.15000000000003 307.7H394.95M388.55 349.1V351.70000000000005" stroke="#000" stroke-width="1.1" fill="none"/>
<rect x="413.5" y="286.5" width="23.5" height="62.6" fill="#fff" stroke="#000" stroke-width="1.1"/>
<path d="M425.25 303.8V269.2M418.85 269.2H431.65M418.85 303.8H431.65M425.25 349.1V351.70000000000005" stroke="#000" stroke-width="1.1" fill="none"/>
<line x1="368.2" y1="349.1" x2="443.9" y2="349.1" stroke="#000" stroke-width="1.4"/>
<text x="388.8" y="363.6" class="ax" text-anchor="middle">DN</text>
<text x="425.2" y="363.6" class="ax" text-anchor="middle">CD8+</text>
<text transform="translate(347.6 271.4) rotate(-90)" class="ax" style="stroke-width:0.45px" text-anchor="middle" textLength="36.4" lengthAdjust="spacingAndGlyphs">% IL-2+</text>
<path d="M247.6 251.3V202.6H285.5V232.5" fill="none" stroke="#222" stroke-width="1.05"/>
<text x="267.7" y="202.2" class="ax" style="font-size:10px" text-anchor="middle">*</text>
</svg>
</body></html>
